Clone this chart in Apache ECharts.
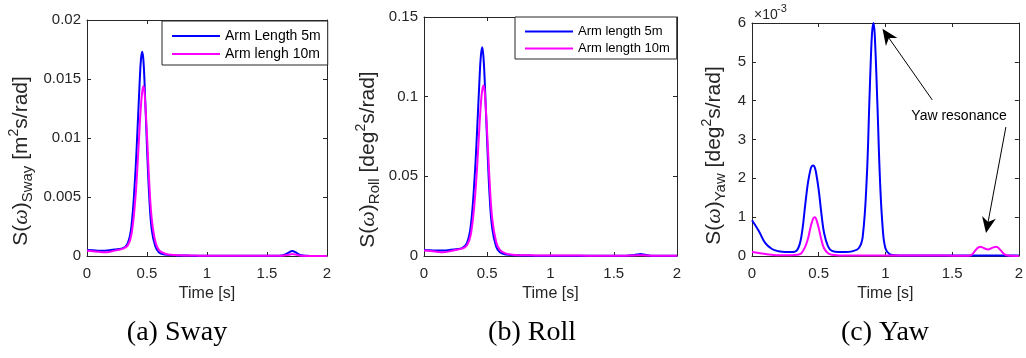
<!DOCTYPE html>
<html><head><meta charset="utf-8">
<script src="https://cdn.jsdelivr.net/npm/echarts@6/dist/echarts.min.js"></script>
<style>html,body{margin:0;padding:0;background:#fff}#c{width:1026px;height:358px}</style>
</head><body><div id="c"></div>
<script>
// shared time samples [s]
const t = [0, 0.05, 0.1, 0.15, 0.2, 0.25, 0.3,
  0.34, 0.37, 0.4, 0.42, 0.44, 0.45, 0.46, 0.47, 0.48, 0.5, 0.52, 0.54, 0.57,
  0.6, 0.65, 0.7, 0.75, 0.8,
  0.83, 0.86, 0.88, 0.89, 0.9, 0.91, 0.92, 0.94, 0.96, 0.98, 1.0, 1.03, 1.07,
  1.15, 1.3, 1.45, 1.6,
  1.64, 1.68, 1.71, 1.74, 1.77, 1.8, 1.83, 1.86, 1.9, 1.95, 2.0];

// Sway [m^2 s/rad]
const sway5 = [0.0005, 0.00048, 0.00045, 0.00045, 0.0005, 0.00058, 0.00066,
  0.0011, 0.0025, 0.0065, 0.0105, 0.015, 0.0167, 0.0173, 0.0166, 0.0146, 0.0092, 0.0048, 0.0022, 0.0008,
  0.0003, 0.00012, 0.00007, 0.00005, 0.00004,
  0.00004, 0.00003, 0.00003, 0.00003, 0.00003, 0.00003, 0.00003, 0.00003, 0.00003, 0.00002, 0.00002, 0.00002, 0.00002,
  0.00002, 0.00002, 0.00002, 0.00003,
  0.00008, 0.00028, 0.00042, 0.0003, 0.00012, 0.00004, 0.00002, 0.00001, 0.00001, 0.00001, 0.00001];
const sway10 = [0.00045, 0.0004, 0.00035, 0.00032, 0.00038, 0.0005, 0.00062,
  0.0009, 0.0018, 0.0045, 0.0075, 0.0112, 0.0128, 0.0139, 0.0144, 0.0138, 0.0102, 0.006, 0.0031, 0.0012,
  0.0005, 0.0002, 0.0001, 0.00007, 0.00005,
  0.00004, 0.00004, 0.00004, 0.00004, 0.00004, 0.00004, 0.00003, 0.00003, 0.00003, 0.00003, 0.00003, 0.00003, 0.00003,
  0.00002, 0.00002, 0.00002, 0.00002,
  0.00004, 0.0001, 0.00016, 0.00012, 0.00005, 0.00002, 0.00001, 0.00001, 0.00001, 0.00001, 0.00001];

// Roll [deg^2 s/rad]
const roll5 = [0.0038, 0.0036, 0.0034, 0.0034, 0.0037, 0.0043, 0.0049,
  0.0082, 0.019, 0.049, 0.079, 0.113, 0.126, 0.131, 0.125, 0.11, 0.07, 0.036, 0.017, 0.006,
  0.0023, 0.0009, 0.0005, 0.0004, 0.0003,
  0.0003, 0.0002, 0.0002, 0.0002, 0.0002, 0.0002, 0.0002, 0.0002, 0.0002, 0.0002, 0.0002, 0.0002, 0.0002,
  0.0002, 0.0002, 0.0002, 0.0002,
  0.0004, 0.0009, 0.0012, 0.0009, 0.0004, 0.0002, 0.0001, 0.0001, 0.0001, 0.0001, 0.0001];
const roll10 = [0.0035, 0.0031, 0.0027, 0.0024, 0.0029, 0.0038, 0.0046,
  0.0068, 0.0135, 0.034, 0.056, 0.084, 0.096, 0.104, 0.107, 0.103, 0.076, 0.045, 0.023, 0.009,
  0.0038, 0.0015, 0.0008, 0.0005, 0.0004,
  0.0004, 0.0004, 0.0003, 0.0003, 0.0003, 0.0003, 0.0003, 0.0003, 0.0003, 0.0003, 0.0003, 0.0003, 0.0003,
  0.0003, 0.0002, 0.0002, 0.0002,
  0.0003, 0.0004, 0.0005, 0.0004, 0.0003, 0.0002, 0.0001, 0.0001, 0.0001, 0.0001, 0.0001];

// Yaw [deg^2 s/rad], in units of 1e-3
const yaw5 = [0.92, 0.65, 0.33, 0.18, 0.12, 0.1, 0.1,
  0.16, 0.5, 1.35, 1.9, 2.25, 2.32, 2.33, 2.28, 2.15, 1.7, 1.1, 0.6, 0.25,
  0.13, 0.1, 0.1, 0.12, 0.2,
  0.5, 2.0, 4.0, 5.0, 5.75, 6.0, 5.7, 3.9, 1.9, 0.7, 0.2, 0.05, 0.02,
  0.01, 0.01, 0.01, 0.01,
  0.01, 0.01, 0.01, 0.01, 0.01, 0.01, 0.01, 0.01, 0.01, 0.01, 0.01];
const yaw10 = [0.1, 0.08, 0.05, 0.03, 0.02, 0.02, 0.02,
  0.03, 0.07, 0.25, 0.45, 0.76, 0.88, 0.97, 1.0, 0.96, 0.72, 0.42, 0.2, 0.07,
  0.03, 0.015, 0.01, 0.01, 0.01,
  0.01, 0.01, 0.01, 0.01, 0.01, 0.01, 0.01, 0.01, 0.01, 0.01, 0.01, 0.01, 0.01,
  0.01, 0.01, 0.01, 0.005,
  0.02, 0.17, 0.24, 0.2, 0.17, 0.21, 0.24, 0.16, 0.03, 0.005, 0];

// tick values
const xTicks = [0, 0.5, 1, 1.5, 2];
const swayTicks = [0, 0.005, 0.01, 0.015, 0.02];
const rollTicks = [0, 0.05, 0.1, 0.15];
const yawTicks = [0, 1, 2, 3, 4, 5, 6];

const legendSway = ['Arm Length 5m', 'Arm lengh 10m'];
const legendRoll = ['Arm length 5m', 'Arm length 10m'];
const captions = ['(a) Sway', '(b) Roll', '(c) Yaw'];

// annotation anchors in yaw data coords
const yawNote = { text: 'Yaw resonance', at: [1.552, 3.6] };
const yawArrows = [
  { from: [1.351, 4.02], to: [0.978, 5.85] },
  { from: [1.903, 3.32], to: [1.754, 0.59] }
];

const SANS = 'Liberation Sans, Arial, sans-serif';
const SERIF = 'Liberation Serif, Times New Roman, serif';
const AX = '#262626';
const BLUE = '#0000ff', MAG = '#ff00ff';

const grids = [
  { left: 87, top: 20, width: 240, height: 236 },
  { left: 424, top: 17, width: 253, height: 239 },
  { left: 752, top: 23, width: 269, height: 233 }
];
const yTickSets = [swayTicks, rollTicks, yawTicks];
const yNames = [
  '{n|S(}{w|ω}{n|)}{sub|Sway}{n| [m}{sup|2}{n|s/rad]}',
  '{n|S(}{w|ω}{n|)}{sub|Roll}{n| [deg}{sup|2}{n|s/rad]}',
  '{n|S(}{w|ω}{n|)}{sub|Yaw}{n| [deg}{sup|2}{n|s/rad]}'
];
const yNameGaps = [52, 42, 24];
const yNamePads = [[0, 46, 0, 0], [0, 46, 0, 0], [0, 32, 0, 0]];

function richY() {
  return {
    n: { fontSize: 21, fontFamily: SANS, color: AX, lineHeight: 28 },
    w: { fontSize: 22, fontFamily: SERIF, fontStyle: 'italic', color: AX, lineHeight: 28 },
    sub: { fontSize: 15, fontFamily: SANS, color: AX, lineHeight: 14, verticalAlign: 'bottom' },
    sup: { fontSize: 14, fontFamily: SANS, color: AX, lineHeight: 14, verticalAlign: 'top' }
  };
}

function xAxisFor(gi, pos) {
  return {
    type: 'value', gridIndex: gi, position: pos,
    min: xTicks[0], max: xTicks[xTicks.length - 1], interval: xTicks[1] - xTicks[0],
    axisLine: { show: true, onZero: false, lineStyle: { color: AX, width: 1 } },
    axisTick: { show: true, inside: true, length: 4, lineStyle: { color: AX, width: 1 } },
    axisLabel: { show: pos === 'bottom', color: AX, fontSize: 15, fontFamily: SANS, margin: 10 },
    splitLine: { show: false },
    name: pos === 'bottom' ? 'Time [s]' : '',
    nameLocation: 'middle', nameGap: 29,
    nameTextStyle: { color: AX, fontSize: 16, fontFamily: SANS }
  };
}
function yAxisFor(gi, pos) {
  const tk = yTickSets[gi];
  return {
    type: 'value', gridIndex: gi, position: pos,
    min: tk[0], max: tk[tk.length - 1], interval: tk[1] - tk[0],
    axisLine: { show: true, onZero: false, lineStyle: { color: AX, width: 1 } },
    axisTick: { show: true, inside: true, length: 4, lineStyle: { color: AX, width: 1 } },
    axisLabel: { show: pos === 'left', color: AX, fontSize: 15, fontFamily: SANS, margin: 6 },
    splitLine: { show: false },
    name: pos === 'left' ? yNames[gi] : '',
    nameLocation: 'middle', nameGap: yNameGaps[gi],
    nameTextStyle: { color: AX, padding: yNamePads[gi], rich: richY() }
  };
}

function pairs(ys) { return t.map((x, i) => [x, ys[i]]); }
function lineSeries(name, gi, ys, color) {
  return {
    type: 'line', name: name, xAxisIndex: gi, yAxisIndex: gi,
    data: pairs(ys), smooth: 0.4, symbol: 'none', showSymbol: false,
    lineStyle: { color: color, width: 2 }, itemStyle: { color: color },
    emphasis: { disabled: true }, animation: false, z: 3
  };
}

function legendFor(names, left, top, fs) {
  return {
    data: names, orient: 'vertical', left: left, top: top,
    itemWidth: 48, itemHeight: 14, itemGap: 4,
    padding: [8, 7, 4, 9], borderColor: AX, borderWidth: 1, backgroundColor: '#fff',
    itemStyle: { color: 'rgba(0,0,0,0)', borderColor: 'rgba(0,0,0,0)', borderWidth: 0, opacity: 0 },
    lineStyle: { width: 2 },
    textStyle: { fontSize: fs, fontFamily: SANS, color: '#000' },
    selectedMode: false
  };
}

const chart = echarts.init(document.getElementById('c'), null, { renderer: 'canvas' });
const option = {
  backgroundColor: '#fff',
  animation: false,
  grid: grids,
  xAxis: [xAxisFor(0, 'bottom'), xAxisFor(1, 'bottom'), xAxisFor(2, 'bottom'),
          xAxisFor(0, 'top'), xAxisFor(1, 'top'), xAxisFor(2, 'top')],
  yAxis: [yAxisFor(0, 'left'), yAxisFor(1, 'left'), yAxisFor(2, 'left'),
          yAxisFor(0, 'right'), yAxisFor(1, 'right'), yAxisFor(2, 'right')],
  legend: [legendFor(legendSway, 162, 21, 14), legendFor(legendRoll, 515, 17, 13)],
  series: [
    lineSeries(legendSway[0], 0, sway5, BLUE),
    lineSeries(legendSway[1], 0, sway10, MAG),
    lineSeries(legendRoll[0], 1, roll5, BLUE),
    lineSeries(legendRoll[1], 1, roll10, MAG),
    lineSeries('Yaw 5m', 2, yaw5, BLUE),
    lineSeries('Yaw 10m', 2, yaw10, MAG)
  ]
};
chart.setOption(option);

// annotations
function px(p) { return chart.convertToPixel({ xAxisIndex: 2, yAxisIndex: 2 }, p); }
function arrowEls(a) {
  const p0 = px(a.from), p1 = px(a.to);
  const dx = p1[0] - p0[0], dy = p1[1] - p0[1], L = Math.hypot(dx, dy);
  const ux = dx / L, uy = dy / L, nx = -uy, ny = ux;
  const hl = 16, hw = 7;
  const b = [p1[0] - ux * hl, p1[1] - uy * hl];
  const notch = [p1[0] - ux * hl * 0.7, p1[1] - uy * hl * 0.7];
  return [
    { type: 'line', shape: { x1: p0[0], y1: p0[1], x2: notch[0], y2: notch[1] }, style: { stroke: '#000', lineWidth: 1 }, z: 10 },
    { type: 'polygon', shape: { points: [p1, [b[0] + nx * hw, b[1] + ny * hw], notch, [b[0] - nx * hw, b[1] - ny * hw]] }, style: { fill: '#000' }, z: 10 }
  ];
}
const notePx = px(yawNote.at);
const g = [];
yawArrows.forEach(a => arrowEls(a).forEach(e => g.push(e)));
g.push({ type: 'text', x: notePx[0], y: notePx[1], z: 10,
  style: { text: yawNote.text, fontSize: 14, fontFamily: SANS, fill: '#000', align: 'center', verticalAlign: 'middle' } });
// x10^-3 exponent label
g.push({ type: 'text', x: 754, y: 15, style: { text: '×10', fontSize: 14, fontFamily: SANS, fill: AX, align: 'left', verticalAlign: 'middle' } });
g.push({ type: 'text', x: 777, y: 9, style: { text: '-3', fontSize: 11, fontFamily: SANS, fill: AX, align: 'left', verticalAlign: 'middle' } });
// captions
const capX = [177, 532, 885];
captions.forEach((c, i) => g.push({ type: 'text', x: capX[i], y: 333,
  style: { text: c, fontSize: 28, fontFamily: SERIF, fill: '#000', align: 'center', verticalAlign: 'middle' } }));
chart.setOption({ graphic: g });
</script>
</body></html>
